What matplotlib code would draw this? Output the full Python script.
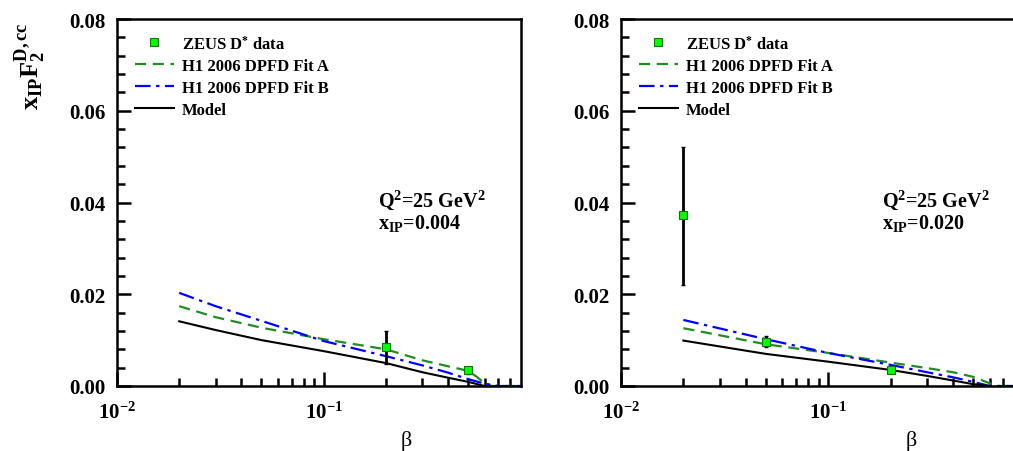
import matplotlib
matplotlib.use("Agg")
import matplotlib.pyplot as plt
from matplotlib.ticker import FixedLocator, NullFormatter, MultipleLocator, FormatStrFormatter

plt.rcParams['font.family'] = ['Liberation Serif', 'DejaVu Serif']
plt.rcParams['font.weight'] = 'bold'
plt.rcParams['mathtext.fontset'] = 'custom'
plt.rcParams['mathtext.rm'] = 'Liberation Serif:bold'
plt.rcParams['mathtext.it'] = 'Liberation Serif:bold'
plt.rcParams['mathtext.bf'] = 'Liberation Serif:bold'
plt.rcParams['mathtext.default'] = 'rm'

# ---- data ----
# left panel: x_IP = 0.004
data_beta_a = [0.2, 0.5]
data_f2_a = [0.0085, 0.0035]
data_lo_a = [0.0037, 0.0008]
data_hi_a = [0.0035, 0.0007]

fitA_beta_a = [0.02, 0.03, 0.05, 0.1, 0.2, 0.3, 0.4, 0.5, 0.55, 0.6, 0.65, 0.9]
fitA_f2_a = [0.0174, 0.0150, 0.0127, 0.0102, 0.0080, 0.0056, 0.0043, 0.0033, 0.0020, 0.0006, 0.0, 0.0]
fitB_beta_a = [0.02, 0.03, 0.05, 0.1, 0.2, 0.3, 0.4, 0.5, 0.6, 0.7, 0.9]
fitB_f2_a = [0.0203, 0.0174, 0.0142, 0.0098, 0.0065, 0.0045, 0.0029, 0.0015, 0.0005, 0.0, 0.0]
model_beta_a = [0.02, 0.03, 0.05, 0.1, 0.2, 0.3, 0.4, 0.5, 0.6]
model_f2_a = [0.0141, 0.0122, 0.0100, 0.0076, 0.0050, 0.0030, 0.0018, 0.0009, 0.0]

# right panel: x_IP = 0.020
data_beta_b = [0.02, 0.05, 0.2]
data_f2_b = [0.0373, 0.0096, 0.0035]
data_lo_b = [0.0153, 0.0011, 0.0004]
data_hi_b = [0.0149, 0.0014, 0.0004]

fitA_beta_b = [0.02, 0.05, 0.1, 0.2, 0.3, 0.4, 0.5, 0.6, 0.65, 0.9]
fitA_f2_b = [0.0126, 0.0091, 0.0072, 0.0051, 0.0039, 0.0030, 0.0020, 0.0006, 0.0, 0.0]
fitB_beta_b = [0.02, 0.05, 0.1, 0.2, 0.3, 0.4, 0.5, 0.6, 0.9]
fitB_f2_b = [0.0144, 0.0102, 0.0072, 0.0046, 0.0030, 0.0019, 0.0009, 0.0, 0.0]
model_beta_b = [0.02, 0.05, 0.1, 0.2, 0.3, 0.4, 0.5, 0.6]
model_f2_b = [0.0099, 0.0070, 0.0053, 0.0035, 0.0022, 0.0012, 0.0004, 0.0]

panels = [
    dict(pos=[117/1013, 65/452, 404/1013, 367/452], xip='0.004',
         db=data_beta_a, df=data_f2_a, dl=data_lo_a, dh=data_hi_a,
         ab=fitA_beta_a, af=fitA_f2_a, bb=fitB_beta_a, bf=fitB_f2_a,
         mb=model_beta_a, mf=model_f2_a),
    dict(pos=[621/1013, 65/452, 405/1013, 367/452], xip='0.020',
         db=data_beta_b, df=data_f2_b, dl=data_lo_b, dh=data_hi_b,
         ab=fitA_beta_b, af=fitA_f2_b, bb=fitB_beta_b, bf=fitB_f2_b,
         mb=model_beta_b, mf=model_f2_b),
]

fig = plt.figure(figsize=(10.13, 4.52), dpi=100)

for p in panels:
    ax = fig.add_axes(p['pos'])
    ax.plot(p['ab'], p['af'], ls=(0, (5, 3)), color='#228b22', lw=1.6, label='H1 2006 DPFD Fit A')
    ax.plot(p['bb'], p['bf'], ls=(0, (7, 2.5, 1.5, 2.5)), color='#0000ff', lw=1.6, label='H1 2006 DPFD Fit B')
    ax.plot(p['mb'], p['mf'], color='black', lw=1.5, label='Model')
    ax.errorbar(p['db'], p['df'], yerr=[p['dl'], p['dh']], fmt='none', ecolor='black',
                elinewidth=2, capsize=1.5)
    ax.plot(p['db'], p['df'], ls='none', marker='s', ms=5.5, mfc='#00ff00', mec='#1a6b1a',
            mew=0.8, label=r'ZEUS D$^{*}$ data')

    ax.set_xscale('log')
    ax.set_xlim(0.01, 0.9)
    ax.set_ylim(0, 0.08)
    ax.xaxis.set_major_locator(FixedLocator([0.01, 0.1]))
    ax.set_xticklabels([r'$10^{-2}$', r'$10^{-1}$'])
    ax.xaxis.set_minor_locator(FixedLocator([0.02, 0.03, 0.04, 0.05, 0.06, 0.07, 0.08, 0.09,
                                             0.2, 0.3, 0.4, 0.5, 0.6, 0.7, 0.8]))
    ax.xaxis.set_minor_formatter(NullFormatter())
    ax.yaxis.set_major_locator(MultipleLocator(0.02))
    ax.yaxis.set_minor_locator(MultipleLocator(0.004))
    ax.yaxis.set_major_formatter(FormatStrFormatter('%.2f'))
    ax.tick_params(which='both', direction='in', width=1.8, labelsize=15)
    ax.tick_params(which='major', length=10, pad=8)
    ax.tick_params(axis='x', which='major', pad=11)
    ax.tick_params(which='minor', length=6)
    for s in ax.spines.values():
        s.set_linewidth(1.8)

    ax.set_xlabel('β', fontsize=16, fontweight='normal')
    ax.xaxis.set_label_coords(0.716, -0.12)

    handles, labels = ax.get_legend_handles_labels()
    order = [3, 0, 1, 2]
    ax.legend([handles[i] for i in order], [labels[i] for i in order], loc='upper left',
              bbox_to_anchor=(0.045, 0.958), borderaxespad=0, borderpad=0, frameon=False,
              fontsize=12, handlelength=2.3, handletextpad=0.5, labelspacing=0.36)

    ax.text(0.645, 0.51, r'Q$^{2}$=25 GeV$^{2}$', transform=ax.transAxes, fontsize=14.5,
            va='center')
    ax.text(0.645, 0.445, r'x$_{IP}$=' + p['xip'], transform=ax.transAxes, fontsize=14.5,
            va='center')

fig.text(31/1013, 1 - 66/452, r'x$_{IP}$F$_{2}^{D,cc}$', rotation=90, ha='center',
         va='center', fontsize=19)

fig.savefig('out.png', dpi=100)
